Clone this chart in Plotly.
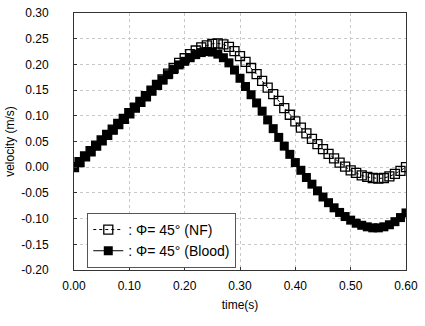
import plotly.graph_objects as go

time_s = [round(i * 0.01, 2) for i in range(61)]

velocity_blood = [
    0.000, 0.010, 0.021, 0.031, 0.042, 0.052, 0.063, 0.073, 0.084, 0.094,
    0.105, 0.116, 0.127, 0.138, 0.149, 0.160, 0.170, 0.180, 0.190, 0.199,
    0.206, 0.213, 0.219, 0.223, 0.225, 0.224, 0.220, 0.213, 0.203, 0.189,
    0.173, 0.157, 0.141, 0.125, 0.109, 0.092, 0.075, 0.058, 0.041, 0.025,
    0.009, -0.006, -0.020, -0.033, -0.046, -0.058, -0.069, -0.079, -0.088, -0.096,
    -0.103, -0.109, -0.113, -0.116, -0.118, -0.118, -0.116, -0.112, -0.106, -0.098,
    -0.089,
]

velocity_nf = [
    0.000, 0.010, 0.021, 0.031, 0.042, 0.052, 0.063, 0.073, 0.084, 0.094,
    0.105, 0.116, 0.127, 0.138, 0.149, 0.160, 0.171, 0.182, 0.193, 0.203,
    0.212, 0.220, 0.227, 0.233, 0.237, 0.240, 0.241, 0.239, 0.234, 0.226,
    0.216, 0.205, 0.193, 0.181, 0.168, 0.155, 0.142, 0.129, 0.115, 0.102,
    0.089, 0.077, 0.066, 0.055, 0.045, 0.035, 0.026, 0.017, 0.009, 0.001,
    -0.006, -0.011, -0.016, -0.019, -0.021, -0.022, -0.021, -0.018, -0.013, -0.007,
    0.000,
]

x_ticks = [0.0, 0.1, 0.2, 0.3, 0.4, 0.5, 0.6]
x_tick_labels = ["0.00", "0.10", "0.20", "0.30", "0.40", "0.50", "0.60"]
y_ticks = [-0.20, -0.15, -0.10, -0.05, 0.00, 0.05, 0.10, 0.15, 0.20, 0.25, 0.30]
y_tick_labels = ["-0.20", "-0.15", "-0.10", "-0.05", "0.00", "0.05", "0.10", "0.15", "0.20", "0.25", "0.30"]

name_nf = ": Φ= 45° (NF)"
name_blood = ": Φ= 45° (Blood)"

fig = go.Figure()
fig.add_trace(go.Scatter(
    x=time_s, y=velocity_nf, name=name_nf, mode="lines+markers",
    line=dict(color="black", width=1, dash="dot"),
    marker=dict(symbol="square-open", size=9, color="black", line=dict(width=1.3, color="black")),
))
fig.add_trace(go.Scatter(
    x=time_s, y=velocity_blood, name=name_blood, mode="lines+markers",
    line=dict(color="black", width=1),
    marker=dict(symbol="square", size=9, color="black"),
))

font = "Liberation Sans, Arial, Helvetica, sans-serif"
fig.update_layout(
    width=425, height=326,
    margin=dict(l=74, r=19, t=13, b=56),
    paper_bgcolor="white", plot_bgcolor="white",
    font=dict(family=font, size=12, color="black"),
    showlegend=True,
    legend=dict(
        x=0.04, y=0.008, xanchor="left", yanchor="bottom",
        bgcolor="white", bordercolor="#555", borderwidth=1,
        font=dict(size=14, family=font), tracegroupgap=0,
        itemwidth=30,
    ),
    xaxis=dict(
        range=[0, 0.6], tickvals=x_ticks, ticktext=x_tick_labels,
        title=dict(text="time(s)", font=dict(size=12), standoff=8),
        showline=True, linecolor="#333", linewidth=1, mirror=True,
        ticks="inside", ticklen=3, tickcolor="#333",
        showgrid=True, gridcolor="#c8c8c8", griddash="dot", gridwidth=1,
        zeroline=False, tickfont=dict(size=12), ticklabelstandoff=5,
        automargin=False, ticklabeloverflow="allow",
    ),
    yaxis=dict(
        range=[-0.2, 0.3], tickvals=y_ticks, ticktext=y_tick_labels,
        title=dict(text="velocity (m/s)", font=dict(size=12), standoff=4),
        showline=True, linecolor="#333", linewidth=1, mirror=True,
        ticks="inside", ticklen=3, tickcolor="#333",
        showgrid=True, gridcolor="#c8c8c8", griddash="dot", gridwidth=1,
        zeroline=False, tickfont=dict(size=12), ticklabelstandoff=22,
        automargin=False, ticklabeloverflow="allow",
    ),
)

# remove the default 8px page margin so the figure fills the window exactly
fig.write_html(
    "out.html",
    config={"displayModeBar": False},
    post_script="document.body.style.margin='0';document.body.style.overflow='hidden';",
)
